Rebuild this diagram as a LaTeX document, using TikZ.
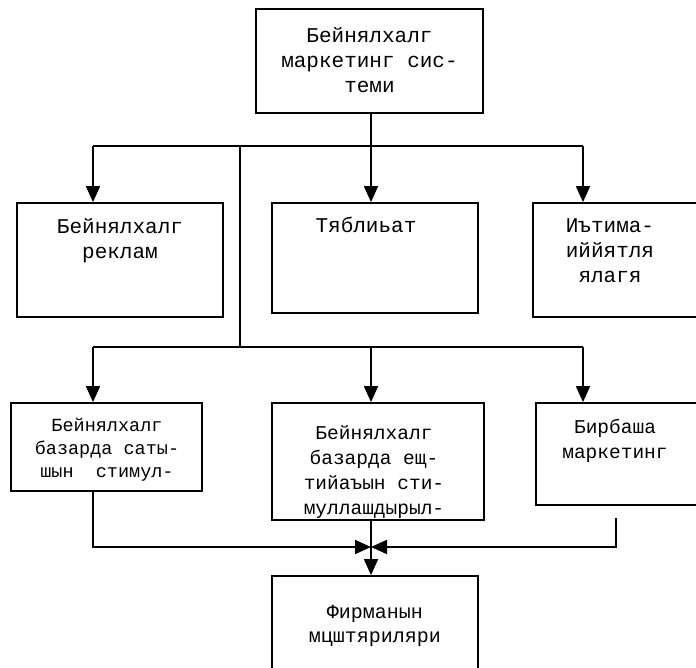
\documentclass[tikz,border=0pt]{standalone}
\usepackage{fontspec}
\usetikzlibrary{arrows.meta}
\newfontfamily\monof{Liberation Mono}
\tikzset{
  box/.style={draw=black, line width=1.8pt, rectangle, inner sep=0pt},
  txt/.style={align=center, inner sep=0pt, anchor=north},
  ln/.style={line width=1.8pt},
  arr/.style={line width=1.8pt, -{Triangle[length=16pt,width=14pt]}},
  fa/.style={font=\monof\fontsize{21}{25}\selectfont},
  fb/.style={font=\monof\fontsize{18.5}{23}\selectfont},
  fc/.style={font=\monof\fontsize{19.5}{25}\selectfont},
  fd/.style={font=\monof\fontsize{20}{24}\selectfont}
}
\begin{document}
\begin{tikzpicture}[x=1pt,y=-1pt]
\useasboundingbox (0,0) rectangle (696,668);
\clip (0,0) rectangle (696,668);
% boxes
\node[box, minimum width=227pt, minimum height=104pt] (T) at (369.5,61) {};
\node[txt, fa] (Tt) at (369.5,27) {Бейнялхалг\\маркетинг сис-\\теми};
\node[box, minimum width=206pt, minimum height=114pt] (A1) at (120,260) {};
\node[txt, fa] (A1t) at (120,218.5) {Бейнялхалг\\реклам};
\node[box, minimum width=206pt, minimum height=110pt] (A2) at (375,258) {};
\node[txt, fa] (A2t) at (366,216.5) {Тяблиьат};
\node[box, minimum width=187pt, minimum height=114pt] (A3) at (626.5,260) {};
\node[txt, fa] (A3t) at (610,218.5) {Иътима-\\иййятля\\ялагя};
\node[box, minimum width=191pt, minimum height=88pt] (B1) at (106.5,447) {};
\node[txt, fb] (B1t) at (107,418) {Бейнялхалг\\базарда саты-\\шын\ \ стимул-};
\node[box, minimum width=212pt, minimum height=117pt] (B2) at (378,461.5) {};
\node[txt, fc] (B2t) at (374,425) {Бейнялхалг\\базарда ещ-\\тийаъын сти-\\муллашдырыл-};
\node[box, minimum width=184pt, minimum height=102pt] (B3) at (628,454) {};
\node[txt, fc] (B3t) at (615,419) {Бирбаша\\маркетинг};
\node[box, minimum width=206pt, minimum height=124pt] (C) at (375,638) {};
\node[txt, fd] (Ct) at (375,605) {Фирманын\\мцштяриляри};
% upper bus
\coordinate (u1) at (93,146);
\coordinate (u2) at (371,146);
\coordinate (u3) at (583,146);
\coordinate (uv) at (240,146);
\draw[ln] (u1) -- (u3);
\draw[ln] (u2 |- T.south) -- (u2);
\draw[arr] (u1) -- (u1 |- A1.north);
\draw[arr] (u2) -- (u2 |- A2.north);
\draw[arr] (u3) -- (u3 |- A3.north);
% lower bus
\coordinate (l1) at (93,347);
\coordinate (l2) at (371,347);
\coordinate (l3) at (583,347);
\coordinate (lv) at (240,347);
\draw[ln] (uv) -- (lv);
\draw[ln] (l1) -- (l3);
\draw[arr] (l1) -- (l1 |- B1.north);
\draw[arr] (l2) -- (l2 |- B2.north);
\draw[arr] (l3) -- (l3 |- B3.north);
% collector
\coordinate (m) at (371,547);
\coordinate (b1s) at (93,491);
\coordinate (b3s) at (616,518);
\draw[arr] (b1s) |- (m);
\draw[arr] (b3s) |- (m);
\draw[arr] (m |- B2.south) -- (m |- C.north);
\end{tikzpicture}
\end{document}
